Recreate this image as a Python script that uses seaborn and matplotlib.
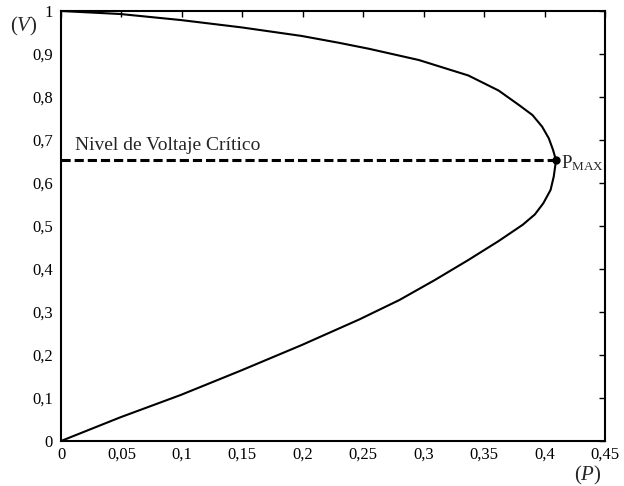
import matplotlib
matplotlib.use("Agg")
import matplotlib.pyplot as plt
import pandas as pd
import seaborn as sns

# curve: upper branch from V=1 down to the nose, then lower branch back to 0
p_curve = [0.0, 0.049, 0.099, 0.149, 0.199, 0.230, 0.255, 0.296, 0.337, 0.362, 0.379, 0.390,
           0.398, 0.4035, 0.407, 0.4095, 0.4076, 0.405, 0.399, 0.392, 0.382, 0.362, 0.337,
           0.309, 0.280, 0.247, 0.199, 0.149, 0.099, 0.049, 0.0]
v_curve = [1.0, 0.993, 0.979, 0.962, 0.942, 0.926, 0.912, 0.886, 0.850, 0.815, 0.781, 0.758,
           0.731, 0.704, 0.677, 0.653, 0.615, 0.584, 0.553, 0.527, 0.503, 0.465, 0.421,
           0.374, 0.328, 0.283, 0.223, 0.164, 0.107, 0.055, 0.0]

p_max = 0.4095
v_crit = 0.653

x_ticks = [0, 0.05, 0.1, 0.15, 0.2, 0.25, 0.3, 0.35, 0.4, 0.45]
x_labels = ["0", "0,05", "0,1", "0,15", "0,2", "0,25", "0,3", "0,35", "0,4", "0,45"]
y_ticks = [0, 0.1, 0.2, 0.3, 0.4, 0.5, 0.6, 0.7, 0.8, 0.9, 1.0]
y_labels = ["0", "0,1", "0,2", "0,3", "0,4", "0,5", "0,6", "0,7", "0,8", "0,9", "1"]

crit_label = "Nivel de Voltaje Crítico"

# set seaborn style, then fonts
sns.set_style("white")
plt.rcParams["font.family"] = ["Liberation Serif", "DejaVu Serif"]
plt.rcParams["mathtext.fontset"] = "custom"
plt.rcParams["mathtext.rm"] = "Liberation Serif"
plt.rcParams["mathtext.it"] = "Liberation Serif:italic"

df = pd.DataFrame({"P": p_curve, "V": v_curve})
df_crit = pd.DataFrame({"P": [0.0, p_max], "V": [v_crit, v_crit]})

fig = plt.figure(figsize=(6.24, 4.86), dpi=100)
ax = fig.add_axes([61 / 624, 45 / 486, 544 / 624, 430 / 486])

sns.lineplot(data=df, x="P", y="V", sort=False, estimator=None, color="black",
             linewidth=1.5, ax=ax)
sns.lineplot(data=df_crit, x="P", y="V", sort=False, estimator=None, color="black",
             linewidth=2.2, ax=ax, dashes=False, linestyle=(0, (3, 1.3)))
ax.plot([p_max], [v_crit], "o", color="black", markersize=5)

ax.text(0.0115, 0.688, crit_label, fontsize=14, va="center", ha="left")
ax.text(p_max + 0.004, v_crit - 0.006, r"P$_{\rm MAX}$", fontsize=13.5, va="center", ha="left")

# axes ranges and ticks
ax.set_xlim(0, 0.45)
ax.set_ylim(0, 1)
ax.set_xticks(x_ticks)
ax.set_xticklabels(x_labels)
ax.set_yticks(y_ticks)
ax.set_yticklabels(y_labels)
ax.tick_params(direction="in", length=4, width=1, top=True, right=True,
               labelsize=12, pad=6, colors="black")
ax.tick_params(axis="x", pad=4)
ax.set_xlabel("")
ax.set_ylabel("")
for s in ax.spines.values():
    s.set_color("black")
    s.set_linewidth(1.5)

fig.text(10 / 624, 1 - 26 / 486, r"$(V)$", fontsize=15, va="center", ha="left")
fig.text(574 / 624, 1 - 475 / 486, r"$(P)$", fontsize=15, va="center", ha="left")

plt.savefig("out.png", dpi=100)
plt.close()
